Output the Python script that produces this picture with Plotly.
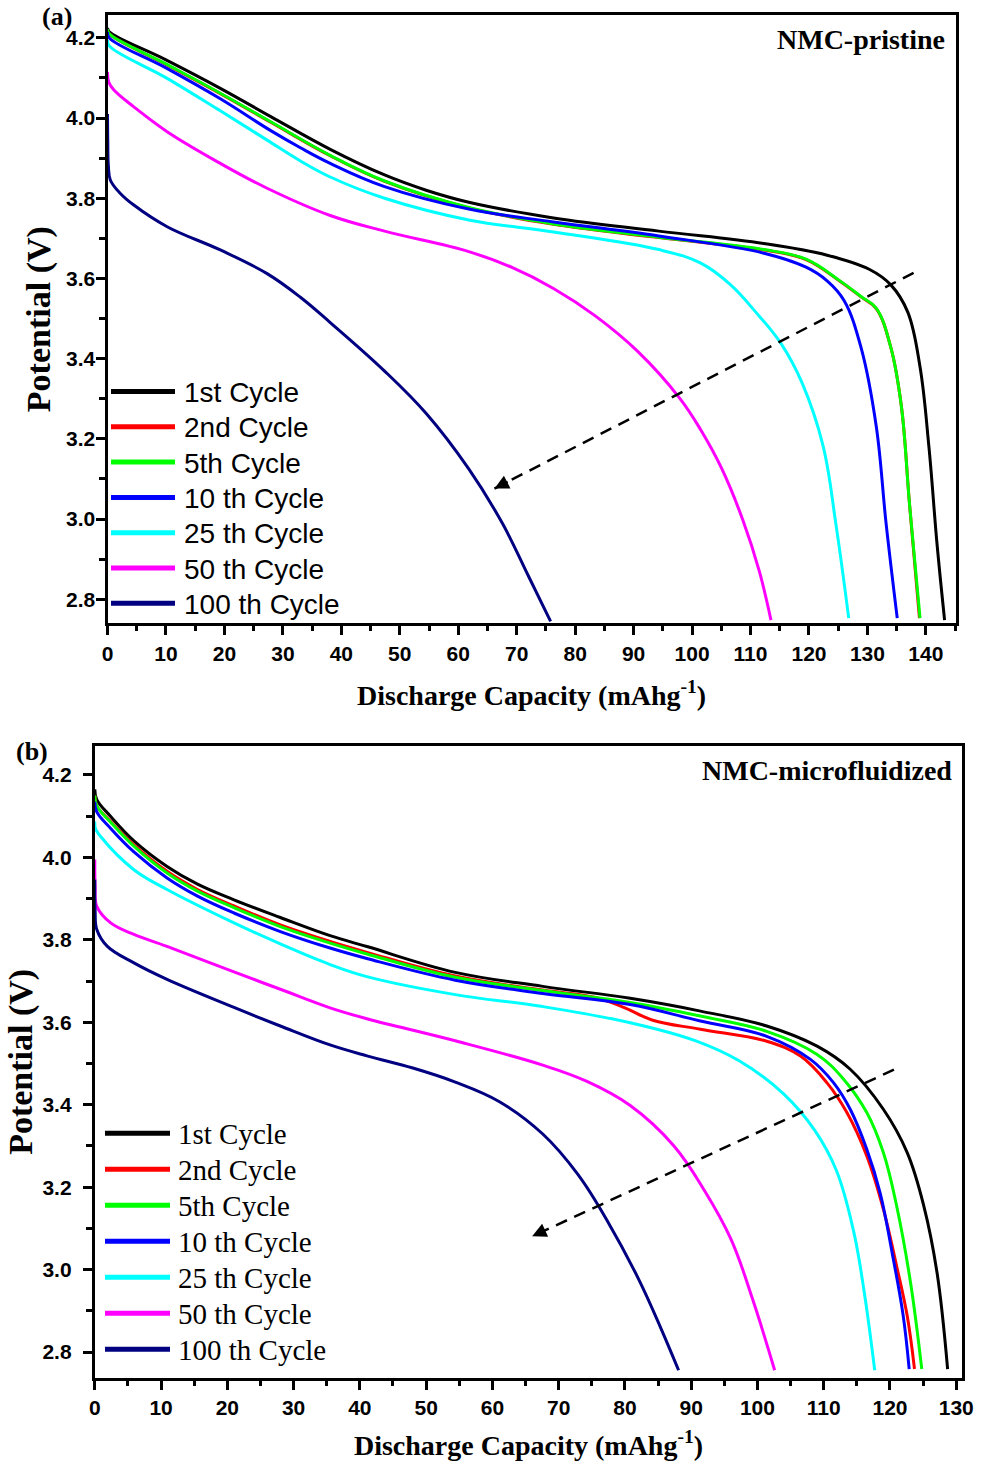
import plotly.graph_objects as go

W, H = 988, 1461

# ---------------- data ----------------
cycle_names = ["1st Cycle", "2nd Cycle", "5th Cycle", "10 th Cycle", "25 th Cycle", "50 th Cycle", "100 th Cycle"]
cycle_colors = ["#000000", "#FF0000", "#00FF00", "#0000FF", "#00FFFF", "#FF00FF", "#000080"]

# (a) NMC-pristine
a1_x = [0, 0.3, 10, 19.3, 28, 38.1, 47.4, 54.5, 61.8, 76.3, 94.3, 112.3, 123.1, 130.3, 134.0, 136.9, 139.0, 140.5, 141.9, 143.2]
a1_v = [4.225, 4.215, 4.145, 4.074, 4.003, 3.922, 3.858, 3.820, 3.790, 3.751, 3.718, 3.687, 3.658, 3.623, 3.584, 3.516, 3.379, 3.183, 2.939, 2.748]
a2_x = [0, 0.3, 10, 19.3, 28, 38.1, 47.4, 61.8, 76.3, 94.3, 112.3, 119.5, 125.3, 128.9, 131.5, 134.0, 135.8, 137.2, 138.9]
a2_v = [4.222, 4.210, 4.134, 4.061, 3.989, 3.906, 3.842, 3.776, 3.735, 3.702, 3.671, 3.647, 3.593, 3.554, 3.525, 3.428, 3.282, 3.037, 2.753]
a5_x = [0, 0.3, 10, 19.3, 28, 38.1, 47.4, 61.8, 76.3, 94.3, 112.3, 119.5, 125.3, 128.9, 131.5, 134.0, 135.8, 137.2, 139.0]
a5_v = [4.222, 4.210, 4.135, 4.062, 3.990, 3.907, 3.843, 3.777, 3.736, 3.703, 3.672, 3.648, 3.594, 3.555, 3.526, 3.428, 3.282, 3.037, 2.753]
a10_x = [0, 0.3, 10, 19.3, 28, 33, 38.1, 47.4, 61.8, 76.3, 94.3, 112.3, 119.5, 123.1, 126.0, 128.9, 131.5, 133.2, 135.1]
a10_v = [4.215, 4.200, 4.125, 4.048, 3.968, 3.926, 3.887, 3.829, 3.773, 3.741, 3.706, 3.663, 3.628, 3.594, 3.545, 3.428, 3.232, 2.988, 2.753]
a25_x = [0, 0.3, 10.2, 19.3, 27.3, 33, 38.1, 47.4, 61.8, 76.3, 94.3, 101.5, 106.6, 110.9, 115.2, 118.8, 122.4, 124.6, 126.8]
a25_v = [4.195, 4.180, 4.099, 4.018, 3.945, 3.893, 3.853, 3.800, 3.746, 3.716, 3.672, 3.638, 3.584, 3.516, 3.438, 3.340, 3.183, 2.988, 2.753]
a50_x = [0, 0.2, 1.1, 4.5, 10.2, 19.3, 27.3, 38.1, 47.4, 61.8, 69.1, 76.3, 83.5, 90.7, 97.9, 101.5, 105.1, 108.7, 111.5, 113.5]
a50_v = [4.115, 4.090, 4.070, 4.028, 3.966, 3.887, 3.825, 3.757, 3.718, 3.667, 3.628, 3.575, 3.506, 3.418, 3.301, 3.222, 3.125, 2.997, 2.870, 2.748]
a100_x = [0, 0.05, 0.15, 0.5, 2.2, 4.5, 10.2, 19.3, 27.3, 33, 38.1, 47.4, 54.6, 61.8, 67.6, 71.9, 75.8]
a100_v = [4.010, 3.940, 3.880, 3.845, 3.812, 3.783, 3.729, 3.671, 3.612, 3.553, 3.490, 3.369, 3.262, 3.125, 2.988, 2.861, 2.745]

# (b) NMC-microfluidized
b1_x = [0, 0.3, 2.4, 5.9, 10.9, 15.5, 21.0, 28.0, 35.5, 41.2, 54.4, 67.6, 80.8, 91.4, 101.4, 109.0, 114.0, 119.0, 122.6, 125.1, 127.1, 128.7]
b1_v = [4.165, 4.140, 4.099, 4.040, 3.978, 3.935, 3.897, 3.854, 3.810, 3.783, 3.721, 3.687, 3.658, 3.627, 3.591, 3.542, 3.486, 3.389, 3.284, 3.155, 2.993, 2.759]
b2_x = [0, 0.3, 2.4, 5.9, 10.9, 15.5, 21.0, 28.0, 35.5, 41.2, 54.4, 67.6, 75.6, 80.0, 84.2, 91.4, 101.4, 106.5, 110.5, 113.5, 116.5, 119.0, 121.0, 122.6, 123.7]
b2_v = [4.150, 4.125, 4.087, 4.030, 3.966, 3.922, 3.882, 3.836, 3.796, 3.769, 3.712, 3.678, 3.660, 3.635, 3.605, 3.583, 3.554, 3.518, 3.453, 3.381, 3.276, 3.147, 3.009, 2.888, 2.759]
b5_x = [0, 0.3, 2.4, 5.9, 10.9, 15.5, 21.0, 28.0, 35.5, 41.2, 54.4, 67.6, 80.8, 91.4, 101.4, 109.0, 113.0, 116.5, 119.0, 121.0, 123.1, 124.8]
b5_v = [4.150, 4.125, 4.085, 4.027, 3.962, 3.918, 3.878, 3.832, 3.792, 3.765, 3.709, 3.677, 3.648, 3.615, 3.578, 3.522, 3.462, 3.381, 3.284, 3.155, 2.969, 2.759]
b10_x = [0, 0.3, 2.4, 5.9, 10.9, 15.5, 21.0, 28.0, 35.5, 41.2, 54.4, 67.6, 80.8, 91.4, 101.4, 108.0, 111.5, 114.0, 116.5, 118.5, 120.5, 122.0, 122.9]
b10_v = [4.135, 4.110, 4.070, 4.013, 3.950, 3.906, 3.865, 3.820, 3.780, 3.754, 3.702, 3.670, 3.643, 3.603, 3.566, 3.510, 3.453, 3.389, 3.292, 3.187, 3.026, 2.888, 2.759]
b25_x = [0, 0.1, 0.85, 5.9, 10.9, 21.0, 28.0, 35.5, 41.2, 54.4, 67.6, 80.8, 90.7, 97.3, 103.9, 108.6, 111.9, 114.5, 116.1, 117.7]
b25_v = [4.087, 4.070, 4.051, 3.970, 3.922, 3.841, 3.790, 3.740, 3.710, 3.667, 3.638, 3.599, 3.555, 3.506, 3.427, 3.339, 3.241, 3.094, 2.947, 2.756]
b50_x = [0, 0.05, 0.3, 2.4, 5.9, 10.9, 21.0, 28.0, 35.5, 41.2, 54.4, 67.6, 74.2, 80.8, 87.4, 92.0, 96.0, 99.3, 102.6]
b50_v = [3.995, 3.930, 3.881, 3.841, 3.813, 3.784, 3.722, 3.680, 3.635, 3.608, 3.555, 3.496, 3.457, 3.398, 3.300, 3.192, 3.074, 2.927, 2.756]
b100_x = [0, 0.05, 0.3, 1.9, 5.9, 10.9, 21.0, 28.0, 35.5, 41.2, 48.0, 54.4, 61.0, 67.6, 72.9, 77.5, 82.1, 85.4, 88.1]
b100_v = [3.946, 3.870, 3.825, 3.784, 3.744, 3.704, 3.636, 3.591, 3.545, 3.518, 3.489, 3.455, 3.408, 3.329, 3.231, 3.114, 2.976, 2.859, 2.756]

x_ticks_a = [0, 10, 20, 30, 40, 50, 60, 70, 80, 90, 100, 110, 120, 130, 140]
x_ticks_b = [0, 10, 20, 30, 40, 50, 60, 70, 80, 90, 100, 110, 120, 130]
y_ticks = [2.8, 3.0, 3.2, 3.4, 3.6, 3.8, 4.0, 4.2]
y_ticktext = ["2.8", "3.0", "3.2", "3.4", "3.6", "3.8", "4.0", "4.2"]

x_range_a = [0, 145.1]
y_range_a = [2.740, 4.257]
x_range_b = [0, 130.9]
y_range_b = [2.738, 4.270]

# trend arrows (start -> tip), data coordinates
arrow_a = [(137.9, 3.614), (66.2, 3.076)]
arrow_b = [(120.6, 3.485), (66.0, 3.081)]

panel_a = [(a1_x, a1_v), (a2_x, a2_v), (a5_x, a5_v), (a10_x, a10_v), (a25_x, a25_v), (a50_x, a50_v), (a100_x, a100_v)]
panel_b = [(b1_x, b1_v), (b2_x, b2_v), (b5_x, b5_v), (b10_x, b10_v), (b25_x, b25_v), (b50_x, b50_v), (b100_x, b100_v)]

# ---------------- figure ----------------
fig = go.Figure()
for (xs, vs), name, col in zip(panel_a, cycle_names, cycle_colors):
    fig.add_trace(go.Scatter(x=xs, y=vs, mode="lines", name=name, showlegend=False,
                             line=dict(color=col, width=3, shape="spline", smoothing=1.1),
                             xaxis="x", yaxis="y"))
for (xs, vs), name, col in zip(panel_b, cycle_names, cycle_colors):
    fig.add_trace(go.Scatter(x=xs, y=vs, mode="lines", name=name, showlegend=False,
                             line=dict(color=col, width=3, shape="spline", smoothing=1.1),
                             xaxis="x2", yaxis="y2"))

def px(xp):
    return xp / W

def py(yp):
    return 1 - yp / H

tickfont = dict(family="Liberation Sans, Arial", size=21, color="black", weight="bold")
titlefont_x = dict(family="Liberation Serif, Times New Roman", size=28, color="black", weight="bold")
titlefont_y = dict(family="Liberation Serif, Times New Roman", size=34, color="black", weight="bold")

def axis_common():
    return dict(showline=True, linewidth=3, linecolor="black", mirror=True,
                ticks="outside", ticklen=9, tickwidth=2.5, tickcolor="black",
                showgrid=False, zeroline=False, tickfont=tickfont, automargin=False)

xa = axis_common()
xa.update(domain=[px(107.5), px(955.7)], range=x_range_a, anchor="y",
          tickmode="array", tickvals=x_ticks_a, ticktext=[str(t) for t in x_ticks_a],
          minor=dict(ticks="outside", ticklen=5, tickwidth=2.5, tickcolor="black", tick0=0, dtick=5),
          title=dict(text="Discharge Capacity (mAhg<sup>-1</sup>)", font=titlefont_x, standoff=22))
ya = axis_common()
ya.update(domain=[py(623.3), py(15)], range=y_range_a, anchor="x",
          tickmode="array", tickvals=y_ticks, ticktext=y_ticktext, ticklabelstandoff=-4,
          minor=dict(ticks="outside", ticklen=6, tickwidth=2.5, tickcolor="black", tick0=2.8, dtick=0.1),
          title=dict(text="Potential (V)", font=titlefont_y, standoff=6))
xb = axis_common()
xb.update(domain=[px(94.8), px(962.2)], range=x_range_b, anchor="y2",
          tickmode="array", tickvals=x_ticks_b, ticktext=[str(t) for t in x_ticks_b],
          minor=dict(ticks="outside", ticklen=5, tickwidth=2.5, tickcolor="black", tick0=0, dtick=5),
          title=dict(text="Discharge Capacity (mAhg<sup>-1</sup>)", font=titlefont_x, standoff=18))
yb = axis_common()
yb.update(domain=[py(1377.7), py(746)], range=y_range_b, anchor="x2",
          tickmode="array", tickvals=y_ticks, ticktext=y_ticktext, ticklabelstandoff=7,
          minor=dict(ticks="outside", ticklen=6, tickwidth=2.5, tickcolor="black", tick0=2.8, dtick=0.1),
          title=dict(text="Potential (V)", font=titlefont_y, standoff=0))

annotations = []
shapes = []

# panel labels
annotations.append(dict(text="<b>(a)</b>", x=px(57), y=py(17), xref="paper", yref="paper",
                        showarrow=False, xanchor="center", yanchor="middle",
                        font=dict(family="Liberation Serif, Times New Roman", size=26, color="black")))
annotations.append(dict(text="<b>(b)</b>", x=px(32), y=py(751), xref="paper", yref="paper",
                        showarrow=False, xanchor="center", yanchor="middle",
                        font=dict(family="Liberation Serif, Times New Roman", size=26, color="black")))
annotations.append(dict(text="<b>NMC-pristine</b>", x=px(947), y=py(39), xref="paper", yref="paper",
                        showarrow=False, xanchor="right", yanchor="middle",
                        font=dict(family="Liberation Serif, Times New Roman", size=28, color="black")))
annotations.append(dict(text="<b>NMC-microfluidized</b>", x=px(954), y=py(770), xref="paper", yref="paper",
                        showarrow=False, xanchor="right", yanchor="middle",
                        font=dict(family="Liberation Serif, Times New Roman", size=28, color="black")))

# manual legends (long line samples)
def legend(x0, x1, xt, y0, dy, font):
    for i, (name, col) in enumerate(zip(cycle_names, cycle_colors)):
        yy = y0 + i * dy
        shapes.append(dict(type="line", xref="paper", yref="paper", x0=px(x0), x1=px(x1),
                           y0=py(yy), y1=py(yy), line=dict(color=col, width=5)))
        annotations.append(dict(text=name, x=px(xt), y=py(yy + 1), xref="paper", yref="paper",
                                showarrow=False, xanchor="left", yanchor="middle", font=font))

legend(111, 175, 182, 391.5, 35.3, dict(family="Liberation Sans, Arial", size=28, color="black"))
legend(105, 170, 176, 1133.3, 36.0, dict(family="Liberation Serif, Times New Roman", size=29, color="black"))

# dashed trend arrows
for (start, tip), xr, yr in [(arrow_a, "x", "y"), (arrow_b, "x2", "y2")]:
    shapes.append(dict(type="line", xref=xr, yref=yr, x0=start[0], y0=start[1], x1=tip[0], y1=tip[1],
                       line=dict(color="black", width=2.5, dash="12px,8px")))
    f = 0.035
    annotations.append(dict(text="", x=tip[0], y=tip[1], xref=xr, yref=yr,
                            ax=tip[0] + f * (start[0] - tip[0]), ay=tip[1] + f * (start[1] - tip[1]),
                            axref=xr, ayref=yr, showarrow=True, arrowhead=2, arrowsize=1.3,
                            arrowwidth=2.2, arrowcolor="black"))

fig.update_layout(width=W, height=H, margin=dict(l=0, r=0, t=0, b=0),
                  paper_bgcolor="white", plot_bgcolor="white",
                  xaxis=xa, yaxis=ya, xaxis2=xb, yaxis2=yb,
                  annotations=annotations, shapes=shapes, showlegend=False)

fig.write_html("out.html")
